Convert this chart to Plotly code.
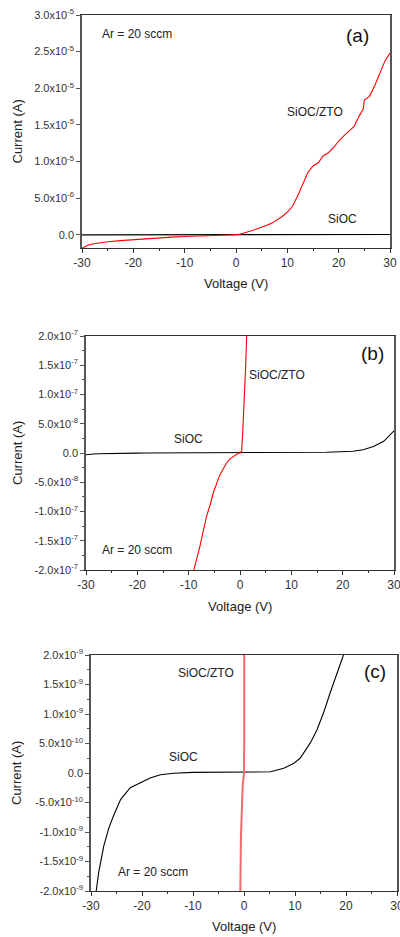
import plotly.graph_objects as go

# ---------------- data (Voltage in V, Current in A) ----------------
V_ZTO = [-30, -29, -28, -27, -26, -25, -22.5, -20, -17.5, -15, -12.5, -10,
         -8.9, -8.4, -7.8, -7.1, -6.5, -5.8, -5.2, -4.5, -3.9, -3.2, -2.6, -1.95,
         -1.3, -0.72, -0.6, -0.26, 0.0, 0.05, 0.13, 0.32, 0.52, 0.84, 1.1, 1.3,
         2, 3, 4, 5, 6, 7, 8, 9, 10, 11, 12, 13, 14, 15, 16, 17, 18, 19, 20,
         21, 22, 23, 24, 24.8, 25, 26, 27, 28, 29, 30]
I_ZTO = [-1.85e-6, -1.45e-6, -1.25e-6, -1.12e-6, -1.02e-6, -0.95e-6, -0.80e-6,
         -0.66e-6, -0.53e-6, -0.42e-6, -0.32e-6, -0.235e-6,
         -1.99e-7, -1.82e-7, -1.59e-7, -1.31e-7, -1.08e-7, -0.88e-7, -0.68e-7,
         -0.51e-7, -0.37e-7, -0.26e-7, -0.17e-7, -0.10e-7,
         -0.06e-7, -2.0e-9, -1.07e-9, -0.23e-9, 0.0, 0.6e-9, 2.0e-9, 3.5e-9,
         3.4e-8, 9.1e-8, 1.48e-7, 2.0e-7,
         3.6e-7, 5.6e-7, 7.8e-7, 1.0e-6, 1.3e-6, 1.6e-6, 2.0e-6, 2.5e-6, 3.1e-6,
         3.9e-6, 5.3e-6, 6.9e-6, 8.5e-6, 9.4e-6, 9.8e-6, 10.8e-6, 11.2e-6,
         11.9e-6, 12.8e-6, 13.5e-6, 14.1e-6, 14.8e-6, 16.2e-6, 17.2e-6, 18.4e-6,
         18.9e-6, 20.3e-6, 21.9e-6, 23.7e-6, 24.8e-6]

V_SIOC = [-30, -29.5, -28.95, -28.5, -27.5, -26.5, -25.6, -24.2, -22.3, -20.3,
          -18.4, -16.4, -13.8, -10, -5, 0, 5.2, 7.8, 9.7, 11, 13, 14.3, 15.6,
          16.9, 18.2, 19.5, 20, 22, 24, 26, 28, 30]
I_SIOC = [-3.0e-9, -2.4e-9, -1.98e-9, -1.69e-9, -1.24e-9, -0.93e-9, -0.73e-9,
          -0.45e-9, -0.25e-9, -0.17e-9, -0.085e-9, -0.03e-9, -0.005e-9, 0.01e-9,
          0.015e-9, 0.02e-9, 0.02e-9, 0.08e-9, 0.16e-9, 0.25e-9, 0.51e-9,
          0.73e-9, 1.02e-9, 1.36e-9, 1.69e-9, 2.0e-9, 2.2e-9, 3.0e-9, 5.7e-9,
          1.1e-8, 2.0e-8, 3.8e-8]

X_TICKS = [-30, -20, -10, 0, 10, 20, 30]
X_TICK_LABELS = ["-30", "-20", "-10", "0", "10", "20", "30"]

Y_TICKS_A = [0, 5e-6, 1e-5, 1.5e-5, 2e-5, 2.5e-5, 3e-5]
Y_LABELS_A = ["0.0", "5.0x10<sup>-6</sup>", "1.0x10<sup>-5</sup>", "1.5x10<sup>-5</sup>",
              "2.0x10<sup>-5</sup>", "2.5x10<sup>-5</sup>", "3.0x10<sup>-5</sup>"]
Y_TICKS_B = [-2e-7, -1.5e-7, -1e-7, -5e-8, 0, 5e-8, 1e-7, 1.5e-7, 2e-7]
Y_LABELS_B = ["-2.0x10<sup>-7</sup>", "-1.5x10<sup>-7</sup>", "-1.0x10<sup>-7</sup>",
              "-5.0x10<sup>-8</sup>", "0.0", "5.0x10<sup>-8</sup>", "1.0x10<sup>-7</sup>",
              "1.5x10<sup>-7</sup>", "2.0x10<sup>-7</sup>"]
Y_TICKS_C = [-2e-9, -1.5e-9, -1e-9, -5e-10, 0, 5e-10, 1e-9, 1.5e-9, 2e-9]
Y_LABELS_C = ["-2.0x10<sup>-9</sup>", "-1.5x10<sup>-9</sup>", "-1.0x10<sup>-9</sup>",
              "-5.0x10<sup>-10</sup>", "0.0", "5.0x10<sup>-10</sup>", "1.0x10<sup>-9</sup>",
              "1.5x10<sup>-9</sup>", "2.0x10<sup>-9</sup>"]

PANELS = [
    dict(tag="(a)", yr=[-1.8e-6, 3.0e-5], yt=Y_TICKS_A, yl=Y_LABELS_A, ydt=5e-6,
         xd=[82 / 400, 390 / 400], ypx=[15, 248], red="#ff0000", redw=1.1,
         lab=dict(tag=(0.893, 0.914), zto=(0.757, 0.584), sioc=(0.847, 0.124), ar=(0.058, 0.918)),
         ar_anchor="left", xtitle_y=284),
    dict(tag="(b)", yr=[-2e-7, 2e-7], yt=Y_TICKS_B, yl=Y_LABELS_B, ydt=2.5e-8,
         xd=[86 / 400, 394 / 400], ypx=[336, 570], red="#ff0000", redw=1.1,
         lab=dict(tag=(0.929, 0.927), zto=(0.620, 0.833), sioc=(0.334, 0.560), ar=(0.166, 0.0855)),
         ar_anchor="center", xtitle_y=606),
    dict(tag="(c)", yr=[-2e-9, 2e-9], yt=Y_TICKS_C, yl=Y_LABELS_C, ydt=2.5e-10,
         xd=[91 / 400, 397 / 400], ypx=[655, 891], red="#f26b6b", redw=2,
         lab=dict(tag=(0.928, 0.928), zto=(0.376, 0.924), sioc=(0.301, 0.568), ar=(0.203, 0.0805)),
         ar_anchor="center", xtitle_y=926),
]

H = 937
W = 400
FONT = "Liberation Sans, Arial, sans-serif"

fig = go.Figure()
layout = dict(width=W, height=H, margin=dict(l=0, r=0, t=0, b=0),
              paper_bgcolor="white", plot_bgcolor="white", showlegend=False,
              font=dict(family=FONT, size=11, color="#333"))
annotations = []

for i, p in enumerate(PANELS):
    n = "" if i == 0 else str(i + 1)
    xa, ya = "x" + n, "y" + n
    fig.add_trace(go.Scatter(x=V_SIOC, y=I_SIOC, mode="lines", xaxis=xa, yaxis=ya,
                             line=dict(color="#000000", width=1.1)))
    fig.add_trace(go.Scatter(x=V_ZTO, y=I_ZTO, mode="lines", xaxis=xa, yaxis=ya,
                             line=dict(color=p["red"], width=p["redw"])))
    ydom = [1 - p["ypx"][1] / H, 1 - p["ypx"][0] / H]
    layout["xaxis" + n] = dict(
        domain=p["xd"], anchor=ya, range=[-30, 30], tickvals=X_TICKS, ticktext=X_TICK_LABELS,
        ticks="outside", ticklen=4, tickwidth=1, tickcolor="#333", automargin=False,
        ticklabeloverflow="allow",
        showline=True, linecolor="#333", linewidth=1, mirror=True,
        showgrid=False, zeroline=False, tickfont=dict(size=12, color="#333"),
        minor=dict(ticks="outside", ticklen=2, tick0=-30, dtick=5, tickcolor="#333", showgrid=False),
    )
    layout["yaxis" + n] = dict(
        domain=ydom, anchor=xa, range=p["yr"], tickvals=p["yt"], ticktext=p["yl"],
        ticks="outside", ticklen=4, tickwidth=1, tickcolor="#555", automargin=False,
        ticklabeloverflow="allow",
        showline=True, linecolor="#555", linewidth=1.5, mirror=True,
        showgrid=False, zeroline=False, tickfont=dict(size=11, color="#333"),
        minor=dict(ticks="outside", ticklen=2, tick0=0, dtick=p["ydt"], tickcolor="#555", showgrid=False),
    )
    dx, dy = xa + " domain", ya + " domain"
    L = p["lab"]
    annotations += [
        dict(text=p["tag"], x=L["tag"][0], y=L["tag"][1], xref=dx, yref=dy, showarrow=False,
             font=dict(size=19, color="#111"), xanchor="center", yanchor="middle"),
        dict(text="SiOC/ZTO", x=L["zto"][0], y=L["zto"][1], xref=dx, yref=dy, showarrow=False,
             font=dict(size=12, color="#222"), xanchor="center", yanchor="middle"),
        dict(text="SiOC", x=L["sioc"][0], y=L["sioc"][1], xref=dx, yref=dy, showarrow=False,
             font=dict(size=12, color="#222"), xanchor="center", yanchor="middle"),
        dict(text="Ar = 20 sccm", x=L["ar"][0], y=L["ar"][1], xref=dx, yref=dy, showarrow=False,
             font=dict(size=12, color="#222"), xanchor=p["ar_anchor"], yanchor="middle"),
        dict(text="Voltage (V)", x=(p["xd"][0] + p["xd"][1]) / 2, y=1 - p["xtitle_y"] / H,
             xref="paper", yref="paper", showarrow=False,
             font=dict(size=13, color="#222"), xanchor="center", yanchor="middle"),
        dict(text="Current (A)", x=17 / W, y=(ydom[0] + ydom[1]) / 2,
             xref="paper", yref="paper", showarrow=False, textangle=-90,
             font=dict(size=13, color="#222"), xanchor="center", yanchor="middle"),
    ]

layout["annotations"] = annotations
fig.update_layout(**layout)
# remove the browser's default 8px body margin so the figure sits at the page origin
fig.write_html("out.html", config={"displayModeBar": False},
               post_script="document.body.style.margin='0';")
